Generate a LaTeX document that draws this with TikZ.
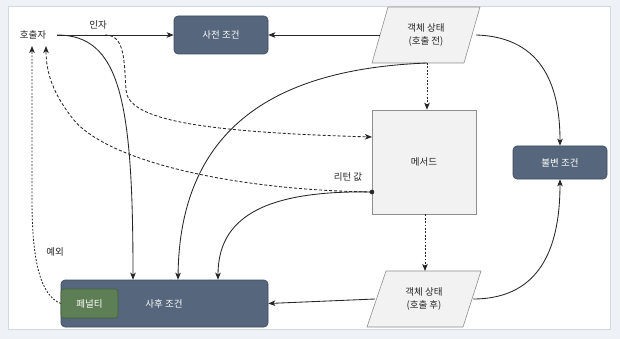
\documentclass[tikz,border=0pt]{standalone}
\usepackage{fontspec}
\setmainfont{Noto Sans CJK KR}
\usetikzlibrary{arrows.meta}
\definecolor{slate}{HTML}{56677D}
\definecolor{slateb}{HTML}{3E4B5C}
\definecolor{pgreen}{HTML}{5E7E55}
\definecolor{pgreenb}{HTML}{41603A}
\definecolor{lgray}{HTML}{F2F2F2}
\definecolor{lgrayb}{HTML}{8E8E8E}
\definecolor{outerbg}{HTML}{EEF1F5}
\definecolor{panelb}{HTML}{D3D9E1}
\definecolor{ink}{HTML}{262626}
\tikzset{
  darkbox/.style={draw=slateb, fill=slate, rounded corners=4pt, text=white, line width=0.6pt, inner sep=0pt},
  greenbox/.style={draw=pgreenb, fill=pgreen, rounded corners=3pt, text=white, line width=0.6pt, inner sep=0pt},
  graybox/.style={draw=lgrayb, fill=lgray, line width=0.6pt, inner sep=0pt},
  plain/.style={inner sep=1pt, text=ink},
  conn/.style={draw=ink, line width=0.85pt, -{Stealth[length=7pt,width=5.5pt,inset=1.8pt]}},
  dashconn/.style={conn, dash pattern=on 3pt off 2pt},
  dotconn/.style={conn, dash pattern=on 1.8pt off 1.6pt},
}
\begin{document}
\begin{tikzpicture}[x=1pt,y=-1pt,font=\fontsize{9.5}{12.5}\selectfont]
\useasboundingbox (0,0) rectangle (620,339);
\fill[outerbg] (0,0) rectangle (620,339);
\draw[panelb, fill=white, line width=0.8pt] (8,6) rectangle (610,329);

% parallelogram shapes
\draw[graybox] (388,7) -- (480,7) -- (464,63) -- (372,63) -- cycle;
\draw[graybox] (386,271) -- (481,271) -- (463,327) -- (367,327) -- cycle;

% nodes
\node[plain] (caller) at (33,35) {호출자};
\node[darkbox, minimum width=94pt, minimum height=38pt] (pre) at (221,35) {사전 조건};
\node[inner sep=0pt, minimum width=108pt, minimum height=56pt, align=center, text=ink] (objA) at (426,35) {객체 상태\\(호출 전)};
\node[graybox, minimum width=104pt, minimum height=104pt, text=ink] (meth) at (424,162) {메서드};
\node[darkbox, minimum width=94pt, minimum height=33pt] (inv) at (560,162.5) {불변 조건};
\node[inner sep=0pt, minimum width=114pt, minimum height=56pt, align=center, text=ink] (objB) at (424,299) {객체 상태\\(호출 후)};
\node[darkbox, minimum width=207pt, minimum height=47pt] (post) at (164.5,303.5) {};
\node[text=white] (posttxt) at (164,303.5) {사후 조건};
\node[greenbox, minimum width=57pt, minimum height=29pt] (pen) at (89.5,303.5) {페널티};

% labels
\node[plain] (argl) at (98,25) {인자};
\node[plain] (retl) at (348,177) {리턴 값};
\node[plain] (excl) at (55,252) {예외};

% helper coordinates
\coordinate (cE) at (57,35);
\coordinate (argS) at (105,35);
\coordinate (objAL) at (380,35);
\coordinate (objAR) at (476,35);
\coordinate (objAB) at (427,63);
\coordinate (objBL) at (375,299);
\coordinate (objBR) at (473,299);
\coordinate (objBT) at (425,271);
\coordinate (ret) at (372,192);
\coordinate (methIn) at (372,137);
\coordinate (cA) at (46,46);
\coordinate (cB) at (32,46);

% connectors
\draw[conn] (cE) -- (pre.west);
\draw[conn] (objAL) -- (pre.east);
\draw[conn] (objAR) .. controls (545,37) and (560,90) .. (inv.north);
\draw[conn] (objBR) .. controls (545,299) and (560,240) .. (inv.south);
\draw[conn] (objBL) -- (post.east);
\draw[dotconn] (objAB) -- (meth.north -| objAB);
\draw[dotconn] (meth.south -| objBT) -- (objBT);
\draw[conn] (cE) .. controls (120,35) and (133,100) .. (post.north -| 133,0);
\draw[dashconn] (argS) .. controls (125,35) and (124,60) .. (126,90) .. controls (128,120) and (200,132) .. (methIn);
\draw[dashconn] (ret) .. controls (230,190) and (100,160) .. (70,115) .. controls (55,95) and (46,75) .. (cA);
\draw[conn] (ret) .. controls (260,190) and (218,220) .. (post.north -| 218,0);
\draw[conn] (objAB) .. controls (300,68) and (180,110) .. (post.north -| 178,0);
\draw[dotconn] (pen.west) .. controls (40,295) and (32,260) .. (32,200) -- (cB);
\fill[ink] (ret) circle (2.3pt);
\end{tikzpicture}
\end{document}
